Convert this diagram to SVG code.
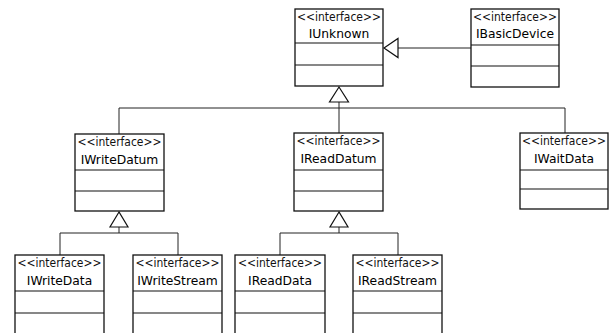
<svg xmlns="http://www.w3.org/2000/svg" width="611" height="333" viewBox="0 0 611 333">
<style>
.box{fill:#fff;stroke:#111;stroke-width:1.3}
.div{stroke:#111;stroke-width:1.2}
.st{font-family:"DejaVu Sans","Liberation Sans",sans-serif;font-size:11.5px;fill:#111;text-anchor:middle}
.nm{font-family:"DejaVu Sans","Liberation Sans",sans-serif;font-size:12.3px;fill:#000;text-anchor:middle}
.con{fill:none;stroke:#222;stroke-width:1}
.tri{fill:#fff;stroke:#111;stroke-width:1.2}
</style>
<rect width="611" height="333" fill="#fff"/>
<g id="connectors">
<path class="con" d="M471 48H398"/>
<path class="con" d="M339 102V108M119 108H565M119 108V134M339 108V133M565 108V133"/>
<path class="con" d="M119 227V233M60 233H178M60 233V255M178 233V255"/>
<path class="con" d="M339 227V233M280 233H398M280 233V255M398 233V255"/>
<polygon class="tri" points="384,48 398,38.5 398,57.5"/>
<polygon class="tri" points="339,87 329.5,102 348.5,102"/>
<polygon class="tri" points="119,212 110,227 128,227"/>
<polygon class="tri" points="339,212 330,227 348,227"/>
</g>
<g id="IUnknown">
<rect class="box" x="295" y="9" width="88" height="77"/>
<path class="div" d="M295 43H383M295 65H383"/>
<text class="st" x="339" y="21" textLength="84" lengthAdjust="spacingAndGlyphs">&lt;&lt;interface&gt;&gt;</text>
<text class="nm" x="339" y="38">IUnknown</text>
</g>
<g id="IBasicDevice">
<rect class="box" x="471" y="9" width="88" height="78"/>
<path class="div" d="M471 45H559M471 66H559"/>
<text class="st" x="515" y="21" textLength="84" lengthAdjust="spacingAndGlyphs">&lt;&lt;interface&gt;&gt;</text>
<text class="nm" x="515" y="38">IBasicDevice</text>
</g>
<g id="IWriteDatum">
<rect class="box" x="75" y="134" width="89" height="77"/>
<path class="div" d="M75 170H164M75 191H164"/>
<text class="st" x="119.5" y="146" textLength="84" lengthAdjust="spacingAndGlyphs">&lt;&lt;interface&gt;&gt;</text>
<text class="nm" x="119.5" y="164">IWriteDatum</text>
</g>
<g id="IReadDatum">
<rect class="box" x="294" y="133" width="89" height="78"/>
<path class="div" d="M294 170H383M294 191H383"/>
<text class="st" x="338.5" y="145" textLength="84" lengthAdjust="spacingAndGlyphs">&lt;&lt;interface&gt;&gt;</text>
<text class="nm" x="338.5" y="163">IReadDatum</text>
</g>
<g id="IWaitData">
<rect class="box" x="520" y="133" width="88" height="76"/>
<path class="div" d="M520 170H608M520 189H608"/>
<text class="st" x="564" y="145" textLength="84" lengthAdjust="spacingAndGlyphs">&lt;&lt;interface&gt;&gt;</text>
<text class="nm" x="564" y="163">IWaitData</text>
</g>
<g id="IWriteData">
<rect class="box" x="15" y="255" width="89" height="85"/>
<path class="div" d="M15 291H104M15 313H104"/>
<text class="st" x="59.5" y="267" textLength="84" lengthAdjust="spacingAndGlyphs">&lt;&lt;interface&gt;&gt;</text>
<text class="nm" x="59.5" y="285">IWriteData</text>
</g>
<g id="IWriteStream">
<rect class="box" x="133" y="255" width="89" height="85"/>
<path class="div" d="M133 291H222M133 313H222"/>
<text class="st" x="177.5" y="267" textLength="84" lengthAdjust="spacingAndGlyphs">&lt;&lt;interface&gt;&gt;</text>
<text class="nm" x="177.5" y="285">IWriteStream</text>
</g>
<g id="IReadData">
<rect class="box" x="235" y="255" width="90" height="85"/>
<path class="div" d="M235 291H325M235 313H325"/>
<text class="st" x="280" y="267" textLength="84" lengthAdjust="spacingAndGlyphs">&lt;&lt;interface&gt;&gt;</text>
<text class="nm" x="280" y="285">IReadData</text>
</g>
<g id="IReadStream">
<rect class="box" x="353" y="255" width="89" height="85"/>
<path class="div" d="M353 291H442M353 313H442"/>
<text class="st" x="397.5" y="267" textLength="84" lengthAdjust="spacingAndGlyphs">&lt;&lt;interface&gt;&gt;</text>
<text class="nm" x="397.5" y="285">IReadStream</text>
</g>
</svg>
